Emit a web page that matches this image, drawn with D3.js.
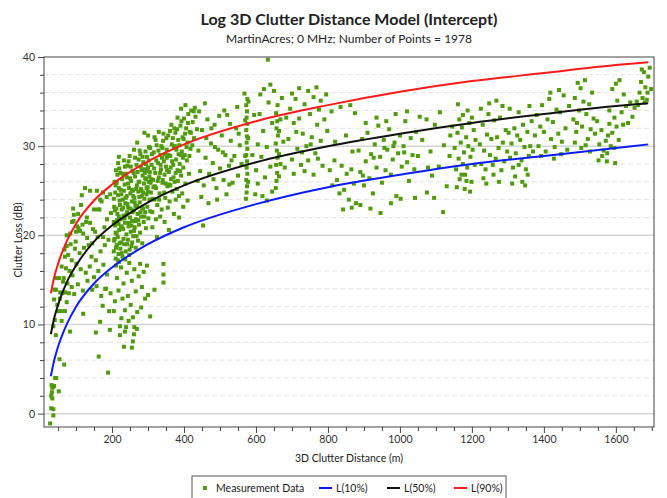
<!DOCTYPE html>
<html>
<head>
<meta charset="utf-8">
<script src="https://cdn.jsdelivr.net/npm/d3@7"></script>
<style>
  body { margin: 0; background: #fff; }
  svg text { font-family: "Segoe UI", Lato, "Noto Sans", sans-serif; fill: #222; }
</style>
</head>
<body>
<div id="chart"></div>
<script>
const nearPoints = [
    [28,-1.1],[37,-0.2],[31,0.6],[37,0.5],[34,1.7],[31,2.0],[33,2.4],[52,2.5],[34,2.9],[36,3.0],[39,3.1],[32,3.2],
    [42,4.0],[45,4.0],[54,6.1],[67,5.5],[44,8.8],[83,9.2],[37,9.8],[41,10.5],[39,12.8],[50,11.5],[58,11.5],[69,11.5],
    [60,10.4],[74,12.5],[62,13.5],[70,13.6],[80,13.5],[88,14.2],[40,13.9],[44,13.9],[48,12.2],[55,12.9],[46,15.2],[53,15.2]
];

const leftCloud = [
    [60,16.5],[69,17.6],[74,18.8],[93,21.6],[103,21.0],[111,20.5],[120,20.2],[130,22.0],[139,21.4],[147,20.7],[153,20.4],
    [161,22.9],[171,23.8],[125,25.3],[139,25.0],[158,25.0],[114,23.4],[167,24.0],[175,24.8],[185,24.3],[195,24.6],[150,22.9],
    [165,22.9],[128,21.5],[118,21.2],[107,20.8],[100,20.4],[89,21.5],[94,22.3],[160,19.8],[175,19.8],[85,19.0],[78,17.8],
    [97,18.5],[110,18.0],[122,18.6],[135,18.9],[143,17.6],[155,17.2],[168,18.2],[180,18.9],[190,19.5],[66,15.2],[72,16.3],
    [82,16.0],[90,15.5],[101,16.8],[113,16.2],[127,15.8],[138,16.5],[150,15.3],[162,16.0],[176,16.7],[186,15.6],[56,13.6],
    [64,14.8],[76,14.6],[95,13.4],[105,14.5],[119,13.8],[132,14.9],[145,13.9],[157,14.3],[170,13.2],[183,14.0],[196,13.5],
    [120,11.2],[155,9.1],[163,6.4],[189,4.6],[194,9.4],[167,10.3],[174,12.1],[181,14.0],[192,11.5],[205,11.5],[84,20.2],
    [92,23.0],[106,22.4],[116,24.5],[99,19.3],[74,20.0],[68,18.4],[88,17.2],[131,19.7],[145,19.1],[186,21.8],[197,22.5],
    [179,20.9]
];

const bandPoints = [
    [208,12.6],[214,15.2],[218,13.8],[225,16.4],[229,12.9],[232,14.6],[236,11.6],[241,15.8],[244,13.2],[248,16.9],[252,12.2],
    [255,14.9],[258,10.8],[262,16.2],[266,13.7],[270,11.4],[274,15.4],[278,16.8],[283,14.2],[288,15.9],[292,12.9],[297,16.6],
    [246,10.4],[236,9.2],[226,10.7],[211,16.6],[219,17.0],[269,9.5],[281,11.9],[300,13.3],[306,10.9],[318,13.9],[343,16.8],
    [343,15.6],[343,14.7],[222,8.8],[239,9.7],[233,7.5],[255,7.4],[258,8.1],[261,8.9],[262,9.7],[222,9.8],
    [205,18.2],[205,21.5],[205,24.1],[207,19.6],[208,22.8],[210,17.4],[210,20.3],[210,25.6],[212,23.0],[213,18.9],[214,21.7],
    [215,26.8],[216,19.8],[217,24.5],[218,17.9],[219,22.1],[220,20.6],[220,27.5],[222,23.4],[223,18.5],[224,25.1],[225,21.0],
    [226,19.2],[227,22.9],[228,26.3],[229,17.6],[230,24.0],[231,20.7],[232,22.2],[233,28.4],[234,19.0],[235,25.7],[236,21.4],
    [237,23.6],[238,18.2],[239,26.9],[240,20.1],[241,24.4],[242,22.6],[243,27.8],[244,19.5],[245,23.1],[246,21.0],[247,25.3],
    [248,17.8],[249,28.9],[250,22.0],[251,24.7],[252,20.4],[253,26.1],[254,18.8],[255,23.8],[256,21.6],[257,27.2],[258,25.0],
    [259,19.9],[260,22.8],[261,29.6],[262,24.2],[263,20.9],[264,26.6],[265,23.3],[266,18.6],[267,21.8],[268,27.9],[269,25.6],
    [270,30.4],[271,22.4],[272,19.4],[273,24.9],[274,28.5],[275,21.2],[276,26.0],[277,23.7],[278,20.3],[279,29.1],[280,25.2],
    [281,22.1],[282,27.3],[283,24.4],[284,19.1],[285,26.7],[286,23.0],[287,28.2],[288,21.5],[289,25.8],[290,24.1],[291,27.0],
    [292,22.6],[293,29.4],[294,20.8],[295,26.3],[296,24.6],[297,28.8],[298,23.2],[299,25.4],[300,27.6],[301,21.9],[302,26.0],
    [303,29.9],[304,24.0],[305,27.1],[306,22.7],[307,25.9],[219,28.8],
    [206,19.4],[206,23.2],[207,26.0],[209,21.1],[209,24.8],[211,18.6],[211,27.3],[213,20.2],[213,25.9],[215,22.4],[216,17.2],
    [217,28.1],[218,21.3],[219,25.3],[221,19.1],[221,23.9],[223,27.0],[224,21.8],[226,24.6],[227,18.0],[228,20.9],[230,26.9],
    [231,23.1],[232,19.6],[233,25.0],[235,21.9],[236,27.7],[237,17.3],[238,24.2],[240,22.3],[241,26.5],[242,19.0],[243,23.5],
    [245,25.8],[246,28.3],[247,21.4],[249,18.4],[250,26.4],[251,23.0],[252,27.7],[254,21.1],[255,25.1],[256,19.2],[257,22.6],
    [259,24.4],[260,27.0],[261,20.5],[263,23.7],[264,28.7],[265,21.6],[267,25.2],[268,19.9],[270,23.3],[271,27.1],[273,21.7],
    [274,26.0],[276,24.3],[277,29.5],[279,22.6],[280,27.7],[282,25.0],[284,23.0],[285,28.8],[287,24.8],[289,27.4],[290,22.1],
    [292,26.4],[294,28.0],[296,25.3],[298,27.2],[300,24.9],[302,28.4],[304,26.6]
];

const blobPoints = [
    [308,24.8],[310,27.9],[312,22.6],[314,26.2],[316,29.3],[318,24.0],[320,27.0],[322,25.3],[324,30.1],[326,23.4],[328,28.1],
    [330,26.5],[332,24.7],[334,29.0],[336,27.4],[338,22.9],[340,25.9],[342,30.6],[344,28.3],[346,26.8],[348,24.2],[350,27.7],
    [352,29.6],[354,25.5],[356,31.2],[358,27.1],[360,23.8],[362,28.9],[364,26.3],[366,30.2],[368,24.9],[370,27.9],[372,29.8],
    [374,26.0],[376,31.5],[378,28.5],[380,25.2],[382,27.3],[384,30.7],[386,24.4],[388,28.0],[390,32.3],[392,26.7],[394,29.4],
    [396,31.0],[398,27.6],[400,33.1],[402,29.0],[404,25.8],[406,32.0],[408,28.4],[410,30.4],[412,33.6],[414,26.9],[416,31.6],
    [418,29.7],[420,34.0],[424,32.7],[428,30.9],[432,33.3],[436,31.9],[312,20.9],[322,21.8],[334,22.1],[346,21.5],[358,20.6],
    [372,22.4],[386,22.0],[398,23.2],[318,31.0],[330,31.6],[306,29.8],[325,19.8],[355,23.1],[377,24.0],[395,24.7],[410,23.9],
    [365,32.4],[382,33.2],[392,34.2],[404,34.6],[300,31.2],[290,31.5],[315,25.4],[345,24.8],[362,25.6],[335,27.9],[352,28.7],
    [375,30.0],[340,29.8],[385,29.1],
    [309,26.3],[311,29.1],[313,24.1],[317,27.5],[319,25.5],[321,30.7],[323,28.4],[327,26.1],[329,29.5],[331,24.0],[333,27.0],
    [337,30.0],[339,28.7],[341,26.2],[343,31.4],[347,29.1],[349,25.8],[351,30.9],[353,27.3],[357,29.0],[359,25.7],[361,31.7],
    [363,27.6],[367,28.3],[369,30.9],[371,26.5],[373,32.0],[377,27.0],[379,29.6],[381,31.9],[383,26.1],[387,30.1],[389,27.2],
    [391,29.0],[393,32.8],[397,28.7],[399,30.8],[403,31.4],[407,29.9],[411,32.6],[415,28.9],[419,31.5],[423,30.1],[427,33.9]
];

const midPoints = [
    [440,29.5],[445,27.2],[450,31.8],[455,25.6],[460,28.7],[465,33.0],[470,26.9],[475,30.3],[480,28.1],[485,32.4],[490,25.3],
    [495,29.6],[500,27.5],[505,31.2],[510,26.2],[515,29.0],[520,33.5],[525,27.8],[530,30.6],[535,25.9],[540,28.9],[545,32.0],
    [550,26.7],[555,30.1],[560,28.0],[448,24.3],[468,23.6],[492,24.0],[518,24.6],[453,21.1],[430,34.3],[442,33.9],[458,34.8],
    [476,32.0],[498,33.4],[512,34.0],[528,32.5],[548,34.4],[462,30.9],[486,29.9],[508,29.3],[532,28.4],[552,31.4],[438,26.1],
    [482,26.3],[526,25.7],
    [572,24.1],[574,24.8],[575,25.5],[573,26.2],[576,26.9],[574,27.6],[575,28.3],[573,29.0],[576,29.7],[574,30.4],[575,31.1],
    [573,31.8],[576,32.5],[574,33.2],[575,33.9],[573,34.6],[576,35.3],[578,26.0],[570,28.9],[578,30.9],[570,32.9],[579,35.0],
    [568,35.9],
    [600,27.3],[605,30.2],[610,33.6],[615,28.8],[620,31.7],[625,26.5],[630,29.9],[635,34.9],[640,27.7],[645,32.6],[633,39.7],
    [622,36.4],[640,36.9],[612,35.8],[655,25.3],[657,26.1],[659,27.0],[656,27.9],[660,28.7],[658,29.5],[655,30.3],[661,31.2],
    [657,32.0],[659,32.8],[656,33.7],[660,34.6],[664,26.6],[664,29.1],[664,31.7],[668,28.0],[668,33.0],[650,36.2],[672,35.4],
    [676,30.5],[680,27.6],[684,33.2],[595,33.5],[590,29.0],[598,24.6],[605,25.8],[618,24.4],[630,23.9],[645,24.9],
    [690,30.8],[695,34.2],[700,28.5],[705,32.6],[710,35.3],[715,29.7],[720,33.1],[725,27.9],[730,31.4],[735,34.7],[740,30.0],
    [745,28.4],[750,33.6],[755,31.0],[760,35.5],[765,29.2],[770,32.4],[775,34.1],[780,30.6],[785,27.8],[790,33.0],[795,35.8],
    [700,35.9],[720,36.5],[745,36.2],[768,36.6],[780,35.1],[712,31.6],[728,29.3],[752,30.2],[772,28.6],[798,31.7],[705,26.9],
    [735,27.2],[760,26.8]
];

const farPoints = [
    [805,27.3],[812,25.6],[818,28.4],[825,26.2],[832,24.7],[838,27.8],[845,25.1],[852,26.9],[858,24.0],[865,27.4],[872,25.8],
    [878,23.6],[810,33.9],[835,34.4],[862,34.6],[875,33.7],[820,30.5],[850,31.2],[868,29.4],[842,22.9],[866,23.1],
    [885,29.5],[890,27.1],[895,30.8],[900,25.6],[905,28.3],[910,31.5],[915,26.4],[920,29.1],[925,24.7],[930,30.2],[935,27.6],
    [940,32.3],[945,28.8],[950,25.9],[955,30.7],[960,27.3],[965,29.6],[970,31.9],[975,26.8],[980,28.5],[985,30.4],[990,24.4],
    [995,29.2],[1000,31.2],[1005,27.7],[1010,30.0],[1015,32.8],[1020,28.2],[1025,26.1],[1030,30.9],[1035,29.0],[1040,27.4],
    [1045,31.6],[1050,28.9],[1055,33.3],[890,23.4],[918,23.0],[946,22.5],[975,23.6],[1002,24.1],[905,32.6],[935,33.2],
    [962,32.8],[988,33.6],[1020,33.9],[1042,24.2],[897,26.7],[927,28.7],[957,29.8],[982,30.0],[1012,29.3],
    [1062,30.7],[1074,33.0],[1078,27.6],[1085,29.4],[1089,26.7],[1097,32.4],[1108,27.7],[1111,33.8],[1122,30.1],[1130,25.5],
    [1138,28.9],[1145,32.2],[1075,24.8],[1095,24.2],[1120,22.6],[1140,31.2],
    [1152,29.8],[1156,27.4],[1160,31.5],[1163,28.6],[1166,26.3],[1169,30.4],[1172,32.1],[1175,28.0],[1178,29.3],[1181,26.8],
    [1184,31.0],[1187,27.6],[1190,30.0],[1193,32.6],[1196,28.8],[1199,26.0],[1202,29.6],[1205,31.8],[1208,27.9],[1161,34.7],
    [1171,26.8],[1185,26.1],[1158,25.4],[1180,25.2],[1195,24.9],[1165,33.0],[1175,33.5],[1188,34.0],[1200,33.2],[1210,30.7],
    [1222,30.2],[1226,28.0],[1230,32.4],[1234,29.5],[1238,27.4],[1242,31.3],[1246,33.6],[1250,29.0],[1254,30.8],[1258,27.9],
    [1262,32.9],[1266,28.6],[1270,31.0],[1274,29.8],[1278,33.2],[1282,27.3],[1286,30.4],[1290,28.3],[1225,34.2],[1248,34.8],
    [1268,35.1],[1285,34.5],[1232,26.4],[1260,26.8],[1240,25.8],[1275,26.0],[1294,31.8],[1298,29.4],
    [1302,31.5],[1306,28.7],[1310,30.3],[1314,27.6],[1318,32.0],[1322,29.2],[1326,31.2],[1330,27.9],[1334,30.7],[1338,28.4],
    [1342,32.4],[1346,29.9],[1350,27.4],[1354,31.6],[1358,28.9],[1362,30.0],[1366,32.8],[1370,29.4],[1320,26.6],[1340,26.0],
    [1355,26.8],[1348,25.6],[1305,34.2],[1330,33.8],[1360,34.5],[1312,25.8],
    [1375,31.2],[1380,33.5],[1385,30.0],[1390,32.2],[1395,34.6],[1400,31.6],[1405,29.4],[1410,33.0],[1415,35.3],[1420,30.8],
    [1425,32.7],[1430,29.9],[1435,34.1],[1440,31.4],[1445,33.8],[1450,30.5],[1455,35.7],[1460,32.0],[1465,29.6],[1470,34.5],
    [1392,28.9],[1428,28.6],[1448,29.1],[1418,36.0],[1442,36.3],
    [1482,33.0],[1486,35.4],[1490,31.6],[1494,37.1],[1498,34.0],[1502,36.5],[1506,32.2],[1510,35.0],[1514,37.4],[1518,33.6],
    [1522,30.8],[1526,34.7],[1530,31.9],[1534,36.0],[1538,33.1],[1492,32.6],[1516,30.1],[1504,29.8],[1528,29.4],[1486,30.4],
    [1542,31.4],[1548,32.8],[1554,30.2],[1560,31.8],[1566,29.5],[1572,30.6],[1575,28.3],[1576,29.2],[1578,31.2],[1582,32.5],
    [1586,30.0],[1590,31.5],[1596,29.8],[1602,32.2],[1608,30.7],[1552,28.4],[1562,28.9],[1598,28.1],
    [1582,34.0],[1590,36.4],[1596,33.2],[1604,35.1],[1610,37.4],[1616,33.8],[1622,35.8],[1628,34.5],[1634,32.6],[1640,34.9],
    [1646,33.3],[1620,32.4],[1600,37.0],
    [1662,34.6],[1666,36.0],[1670,37.2],[1674,35.4],[1678,38.3],[1682,36.6],[1686,35.2],[1690,37.8],[1694,38.8],[1698,36.4],
    [1680,34.9],[1672,38.6],[1688,36.0],[1652,34.3],[1658,35.0]
];

// Model curves at a set of distances
const curveDist = [30, 40, 50, 75, 100, 150, 200, 300, 400, 600, 800, 1000, 1200, 1400, 1600, 1690];
const loss10 = [4.2, 6.1, 7.5, 10.1, 12.0, 14.6, 16.4, 19.0, 20.9, 23.5, 25.4, 26.8, 28.0, 28.9, 29.8, 30.2];
const loss50 = [8.9, 10.8, 12.2, 14.8, 16.6, 19.3, 21.1, 23.7, 25.6, 28.2, 30.0, 31.4, 32.6, 33.6, 34.5, 34.8];
const loss90 = [13.5, 15.4, 16.8, 19.4, 21.3, 23.9, 25.7, 28.3, 30.2, 32.8, 34.6, 36.1, 37.3, 38.2, 39.1, 39.4];

const xTicks = [200, 400, 600, 800, 1000, 1200, 1400, 1600];
const yTicks = [0, 10, 20, 30, 40];

const allPoints = nearPoints.concat(leftCloud, bandPoints, blobPoints, midPoints, farPoints);

const width = 667;
const height = 498;
const margin = { top: 57, right: 13, bottom: 71, left: 44 };

const svg = d3.select('#chart')
    .append('svg')
    .attr('width', width)
    .attr('height', height);

const xScale = d3.scaleLinear()
    .domain([11, 1706])
    .range([margin.left, width - margin.right]);

const yScale = d3.scaleLinear()
    .domain([-1.5, 40])
    .range([height - margin.bottom, margin.top]);

// Horizontal gridlines: dashed minor every 2, solid major every 10
const minorY = d3.range(0, 40, 2).filter(v => v % 10 !== 0);
svg.append('g')
    .selectAll('line')
    .data(minorY)
    .join('line')
    .attr('x1', margin.left)
    .attr('x2', width - margin.right)
    .attr('y1', d => yScale(d))
    .attr('y2', d => yScale(d))
    .attr('stroke', '#e2e2e2')
    .attr('stroke-dasharray', '5,3');

svg.append('g')
    .selectAll('line')
    .data(yTicks.filter(v => v < 40))
    .join('line')
    .attr('x1', margin.left)
    .attr('x2', width - margin.right)
    .attr('y1', d => yScale(d))
    .attr('y2', d => yScale(d))
    .attr('stroke', '#d6d6d6')
    .attr('stroke-width', 1.5);

// Scatter of measurement data
svg.append('g')
    .selectAll('rect')
    .data(allPoints)
    .join('rect')
    .attr('x', d => xScale(d[0]) - 2)
    .attr('y', d => yScale(d[1]) - 2)
    .attr('width', 4)
    .attr('height', 4)
    .attr('fill', '#4f9b0b');

// Model lines
const line = d3.line()
    .x(d => xScale(d[0]))
    .y(d => yScale(d[1]))
    .curve(d3.curveMonotoneX);

const curves = [
    { values: loss10, color: '#0b1cff' },
    { values: loss50, color: '#111111' },
    { values: loss90, color: '#ff1a1a' }
];

svg.append('g')
    .selectAll('path')
    .data(curves)
    .join('path')
    .attr('d', c => line(curveDist.map((d, i) => [d, c.values[i]])))
    .attr('fill', 'none')
    .attr('stroke', c => c.color)
    .attr('stroke-width', 2);

// Frame
svg.append('rect')
    .attr('x', margin.left)
    .attr('y', margin.top)
    .attr('width', width - margin.left - margin.right)
    .attr('height', height - margin.top - margin.bottom)
    .attr('fill', 'none')
    .attr('stroke', '#444')
    .attr('stroke-width', 1);

// Axes
svg.append('g')
    .attr('transform', `translate(0,${height - margin.bottom})`)
    .call(d3.axisBottom(xScale).tickValues(xTicks).tickSize(6).tickPadding(3).tickFormat(d3.format('d')));

svg.append('g')
    .attr('transform', `translate(0,${height - margin.bottom})`)
    .call(d3.axisBottom(xScale).tickValues(d3.range(50, 1701, 50).filter(v => v % 200 !== 0)).tickSize(4).tickFormat(''));

svg.append('g')
    .attr('transform', `translate(${margin.left},0)`)
    .call(d3.axisLeft(yScale).tickValues(yTicks).tickSize(6).tickPadding(3));

svg.append('g')
    .attr('transform', `translate(${margin.left},0)`)
    .call(d3.axisLeft(yScale).tickValues(minorY).tickSize(4).tickFormat(''));

svg.selectAll('.domain').remove();
svg.selectAll('.tick line').attr('stroke', '#444');
svg.selectAll('.tick text').style('font-size', '10.5px').style('fill', '#333');

// Titles
svg.append('text')
    .attr('x', 349)
    .attr('y', 25)
    .attr('text-anchor', 'middle')
    .style('font-size', '16px')
    .style('font-weight', 'bold')
    .text('Log 3D Clutter Distance Model (Intercept)');

svg.append('text')
    .attr('x', 349)
    .attr('y', 43)
    .attr('text-anchor', 'middle')
    .style('font-size', '12px')
    .text('MartinAcres; 0 MHz; Number of Points = 1978');

svg.append('text')
    .attr('x', 349)
    .attr('y', 462)
    .attr('text-anchor', 'middle')
    .style('font-size', '10.5px')
    .text('3D Clutter Distance (m)');

svg.append('text')
    .attr('transform', 'rotate(-90)')
    .attr('x', -240)
    .attr('y', 22)
    .attr('text-anchor', 'middle')
    .style('font-size', '10.5px')
    .text('Clutter Loss (dB)');

// Legend
const legend = svg.append('g');
legend.append('rect')
    .attr('x', 192)
    .attr('y', 476)
    .attr('width', 314)
    .attr('height', 30)
    .attr('fill', '#fff')
    .attr('stroke', '#555');

legend.append('rect')
    .attr('x', 203)
    .attr('y', 486)
    .attr('width', 4)
    .attr('height', 4)
    .attr('fill', '#4f9b0b');

legend.append('text')
    .attr('x', 216)
    .attr('y', 492)
    .style('font-size', '10.5px')
    .text('Measurement Data');

const legendLines = [
    { x: 319, label: 'L(10%)', color: '#0b1cff' },
    { x: 387, label: 'L(50%)', color: '#111111' },
    { x: 454, label: 'L(90%)', color: '#ff1a1a' }
];

legendLines.forEach(l => {
    legend.append('line')
        .attr('x1', l.x)
        .attr('x2', l.x + 13)
        .attr('y1', 488)
        .attr('y2', 488)
        .attr('stroke', l.color)
        .attr('stroke-width', 2);
    legend.append('text')
        .attr('x', l.x + 17)
        .attr('y', 492)
        .style('font-size', '10.5px')
        .text(l.label);
});
</script>
</body>
</html>
